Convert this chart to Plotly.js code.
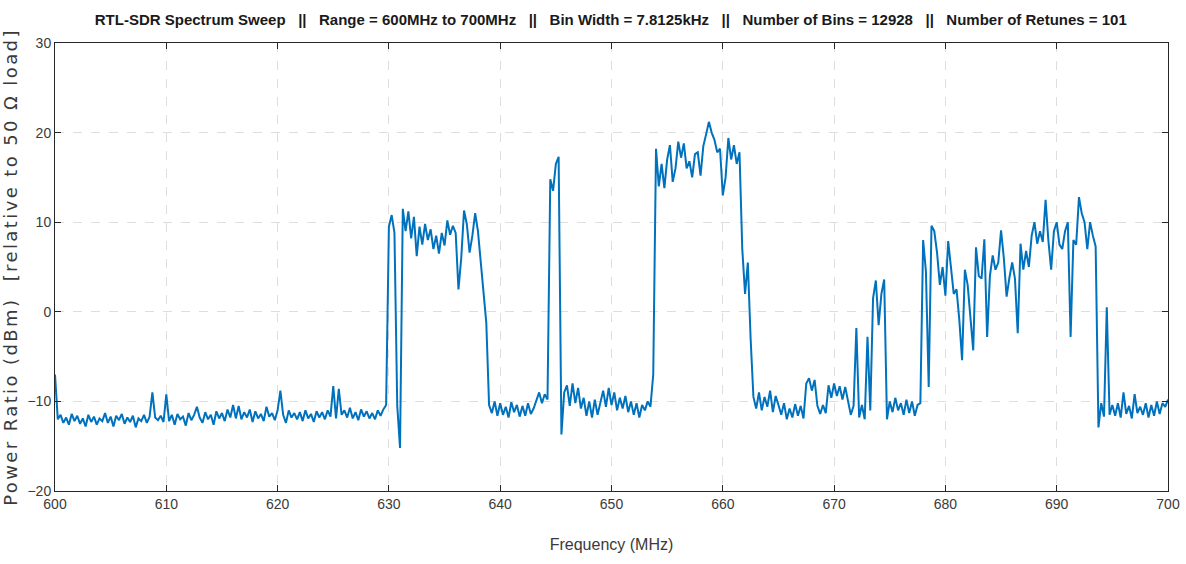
<!DOCTYPE html>
<html>
<head>
<meta charset="utf-8">
<script src="https://cdn.plot.ly/plotly-3.0.1.min.js"></script>
<style>html,body{margin:0;padding:0;background:#fff;}#chart{width:1186px;height:564px;}
#chart .ytitle{letter-spacing:2.4px;}</style>
</head>
<body>
<div id="chart"></div>
<script>
// Sweep settings (bins resampled every 0.25 MHz)
const freqStartMHz = 600;
const freqStepMHz = 0.25;

// Power ratio in dBm, one value per 0.25 MHz from 600 to 700 MHz
const powerDbm = [
  -7.0, -12.0, -11.5, -12.4,   // 600
  -11.8, -12.6, -11.4, -12.2,  // 601
  -11.6, -12.5, -11.9, -12.8,  // 602
  -11.5, -12.3, -11.7, -12.6,  // 603
  -11.9, -12.2, -11.3, -12.4,  // 604
  -11.7, -12.8, -11.6, -12.1,  // 605
  -11.4, -12.5, -11.8, -12.3,  // 606
  -11.6, -12.9, -11.9, -12.2,  // 607
  -11.5, -12.4, -11.7, -9.0,   // 608
  -11.8, -12.1, -11.6, -12.3,  // 609
  -9.2, -12.2, -11.5, -12.6,   // 610
  -11.4, -12.0, -11.7, -12.7,  // 611
  -11.3, -12.1, -11.5, -10.6,  // 612
  -11.8, -12.4, -11.2, -12.0,  // 613
  -11.5, -12.6, -11.1, -11.9,  // 614
  -11.3, -12.2, -10.9, -11.8,  // 615
  -10.4, -11.9, -10.5, -12.0,  // 616
  -11.2, -11.8, -10.9, -12.3,  // 617
  -11.1, -11.9, -11.4, -12.2,  // 618
  -10.6, -11.7, -11.3, -12.1,  // 619
  -11.0, -8.8, -11.5, -12.4,   // 620
  -11.0, -11.8, -11.3, -12.0,  // 621
  -11.2, -12.2, -11.0, -11.9,  // 622
  -11.4, -12.3, -11.1, -11.8,  // 623
  -11.2, -12.0, -11.0, -11.7,  // 624
  -8.3, -11.9, -8.6, -11.5,    // 625
  -11.0, -11.8, -10.7, -11.9,  // 626
  -11.2, -12.1, -10.9, -11.7,  // 627
  -11.1, -11.9, -11.3, -12.0,  // 628
  -11.0, -11.6, -10.9, -10.4,  // 629
  9.5, 10.8, 8.8, -10.5,       // 630
  -15.2, 11.5, 9.0, 11.2,      // 631
  8.2, 10.6, 6.2, 9.5,         // 632
  7.5, 9.8, 8.0, 9.2,          // 633
  7.0, 8.5, 6.5, 8.8,          // 634
  7.4, 10.2, 8.6, 9.6,         // 635
  8.8, 2.5, 6.0, 11.3,         // 636
  9.8, 6.6, 8.5, 11.0,         // 637
  9.0, 5.8, 2.5, -1.2,         // 638
  -10.4, -11.3, -10.0, -11.6,  // 639
  -10.2, -11.5, -10.6, -11.8,  // 640
  -10.1, -11.2, -10.4, -11.7,  // 641
  -10.5, -11.6, -10.2, -11.4,  // 642
  -10.8, -10.0, -9.0, -10.2,   // 643
  -9.2, -9.8, 14.8, 13.5,      // 644
  16.5, 17.3, -13.7, -9.0,     // 645
  -8.2, -10.5, -8.0, -10.2,    // 646
  -8.5, -10.8, -9.6, -11.6,    // 647
  -10.0, -11.8, -9.8, -11.5,   // 648
  -10.2, -8.8, -10.6, -8.5,    // 649
  -10.4, -9.0, -11.0, -9.6,    // 650
  -10.8, -9.4, -11.2, -10.0,   // 651
  -11.5, -10.2, -11.8, -10.4,  // 652
  -11.0, -10.0, -10.6, -7.0,   // 653
  18.2, 14.0, 16.5, 13.8,      // 654
  17.0, 18.6, 14.5, 16.0,      // 655
  19.0, 17.2, 18.8, 16.0,      // 656
  16.8, 15.0, 17.6, 17.8,      // 657
  15.2, 18.5, 19.8, 21.2,      // 658
  20.0, 19.2, 17.8, 18.2,      // 659
  13.0, 15.0, 19.4, 17.0,      // 660
  18.6, 16.5, 17.8, 7.0,       // 661
  2.0, 5.5, -3.0, -9.5,        // 662
  -10.8, -9.0, -11.0, -9.5,    // 663
  -10.6, -8.8, -11.2, -9.4,    // 664
  -10.4, -11.5, -10.2, -12.0,  // 665
  -10.8, -11.8, -10.3, -11.6,  // 666
  -10.5, -11.9, -8.0, -7.4,    // 667
  -8.8, -7.6, -10.5, -11.4,    // 668
  -10.4, -11.3, -8.2, -9.6,    // 669
  -8.0, -9.4, -8.3, -9.8,      // 670
  -8.4, -10.0, -11.5, -10.5,   // 671
  -1.8, -11.8, -10.4, -12.0,   // 672
  -2.8, -11.0, 1.5, 3.5,       // 673
  -1.5, 2.0, 3.6, -12.0,       // 674
  -10.0, -11.2, -9.6, -11.0,   // 675
  -10.2, -11.5, -9.8, -11.3,   // 676
  -10.0, -11.6, -10.4, -10.2,  // 677
  8.0, 4.5, -8.4, 9.6,         // 678
  9.0, 6.6, 3.0, 5.0,          // 679
  1.8, 7.9, 4.7, 2.0,          // 680
  2.5, -0.9, -5.4, 4.7,        // 681
  3.0, -0.5, -4.3, 7.2,        // 682
  4.0, 3.7, 8.1, -2.8,         // 683
  4.0, 6.3, 4.7, 5.5,          // 684
  9.1, 6.0, 1.7, 3.8,          // 685
  5.5, 3.7, -2.4, 7.6,         // 686
  4.7, 6.8, 5.0, 8.5,          // 687
  10.0, 7.6, 9.0, 7.8,         // 688
  12.5, 8.0, 4.7, 9.0,         // 689
  10.0, 7.5, 7.0, 9.0,         // 690
  10.0, -2.8, 8.0, 7.5,        // 691
  12.8, 11.0, 10.0, 7.0,       // 692
  10.0, 8.5, 7.3, -12.9,       // 693
  -10.2, -11.7, 0.5, -11.5,    // 694
  -10.4, -11.6, -10.2, -11.8,  // 695
  -9.0, -11.4, -10.5, -11.9,   // 696
  -9.2, -11.3, -10.6, -11.5,   // 697
  -10.2, -11.8, -10.4, -11.6,  // 698
  -10.0, -11.4, -10.2, -10.6,  // 699
  -9.8                         // 700
];

const xTickVals = [600, 610, 620, 630, 640, 650, 660, 670, 680, 690, 700];
const yTickVals = [-20, -10, 0, 10, 20, 30];

const chartTitle = "RTL-SDR Spectrum Sweep   ||   Range = 600MHz to 700MHz   ||   Bin Width = 7.8125kHz   ||   Number of Bins = 12928   ||   Number of Retunes = 101";
const xTitle = "Frequency (MHz)";
const yTitle = "Power Ratio (dBm)  [relative to 50 \u03A9 load]";

const freqMHz = powerDbm.map((_, i) => freqStartMHz + i * freqStepMHz);

const narrow = "'Liberation Sans Narrow', 'Arial Narrow', 'Liberation Sans', Arial, sans-serif";
const axisCommon = {
  showline: true, mirror: 'ticks', linecolor: '#262626', linewidth: 1,
  ticks: 'inside', ticklen: 6, tickcolor: '#262626',
  showgrid: true, gridcolor: '#dedede', griddash: 'dash', gridwidth: 1,
  zeroline: false,
  tickfont: {family: narrow, size: 14, color: '#3a3a3a'}
};

Plotly.newPlot('chart', [{
  x: freqMHz, y: powerDbm, type: 'scatter', mode: 'lines',
  line: {color: '#0072BD', width: 2},
  hoverinfo: 'x+y'
}], {
  width: 1186, height: 564,
  margin: {l: 55, r: 18, t: 43, b: 73},
  paper_bgcolor: '#ffffff', plot_bgcolor: '#ffffff',
  showlegend: false,
  title: {text: '<b>' + chartTitle + '</b>', x: 0.515, xanchor: 'center', y: 0.975, yanchor: 'top',
          font: {family: narrow, size: 15, color: '#1a1a1a'}},
  xaxis: Object.assign({}, axisCommon, {
    range: [600, 700], tickvals: xTickVals,
    title: {text: xTitle, standoff: 28, font: {family: narrow, size: 16, color: '#3a3a3a'}}
  }),
  yaxis: Object.assign({}, axisCommon, {
    range: [-20, 30], tickvals: yTickVals,
    title: {text: yTitle, standoff: 8, font: {family: "'DejaVu Sans', Verdana, sans-serif", size: 18, color: '#3a3a3a'}}
  })
}, {displayModeBar: false, staticPlot: true});
</script>
</body>
</html>
